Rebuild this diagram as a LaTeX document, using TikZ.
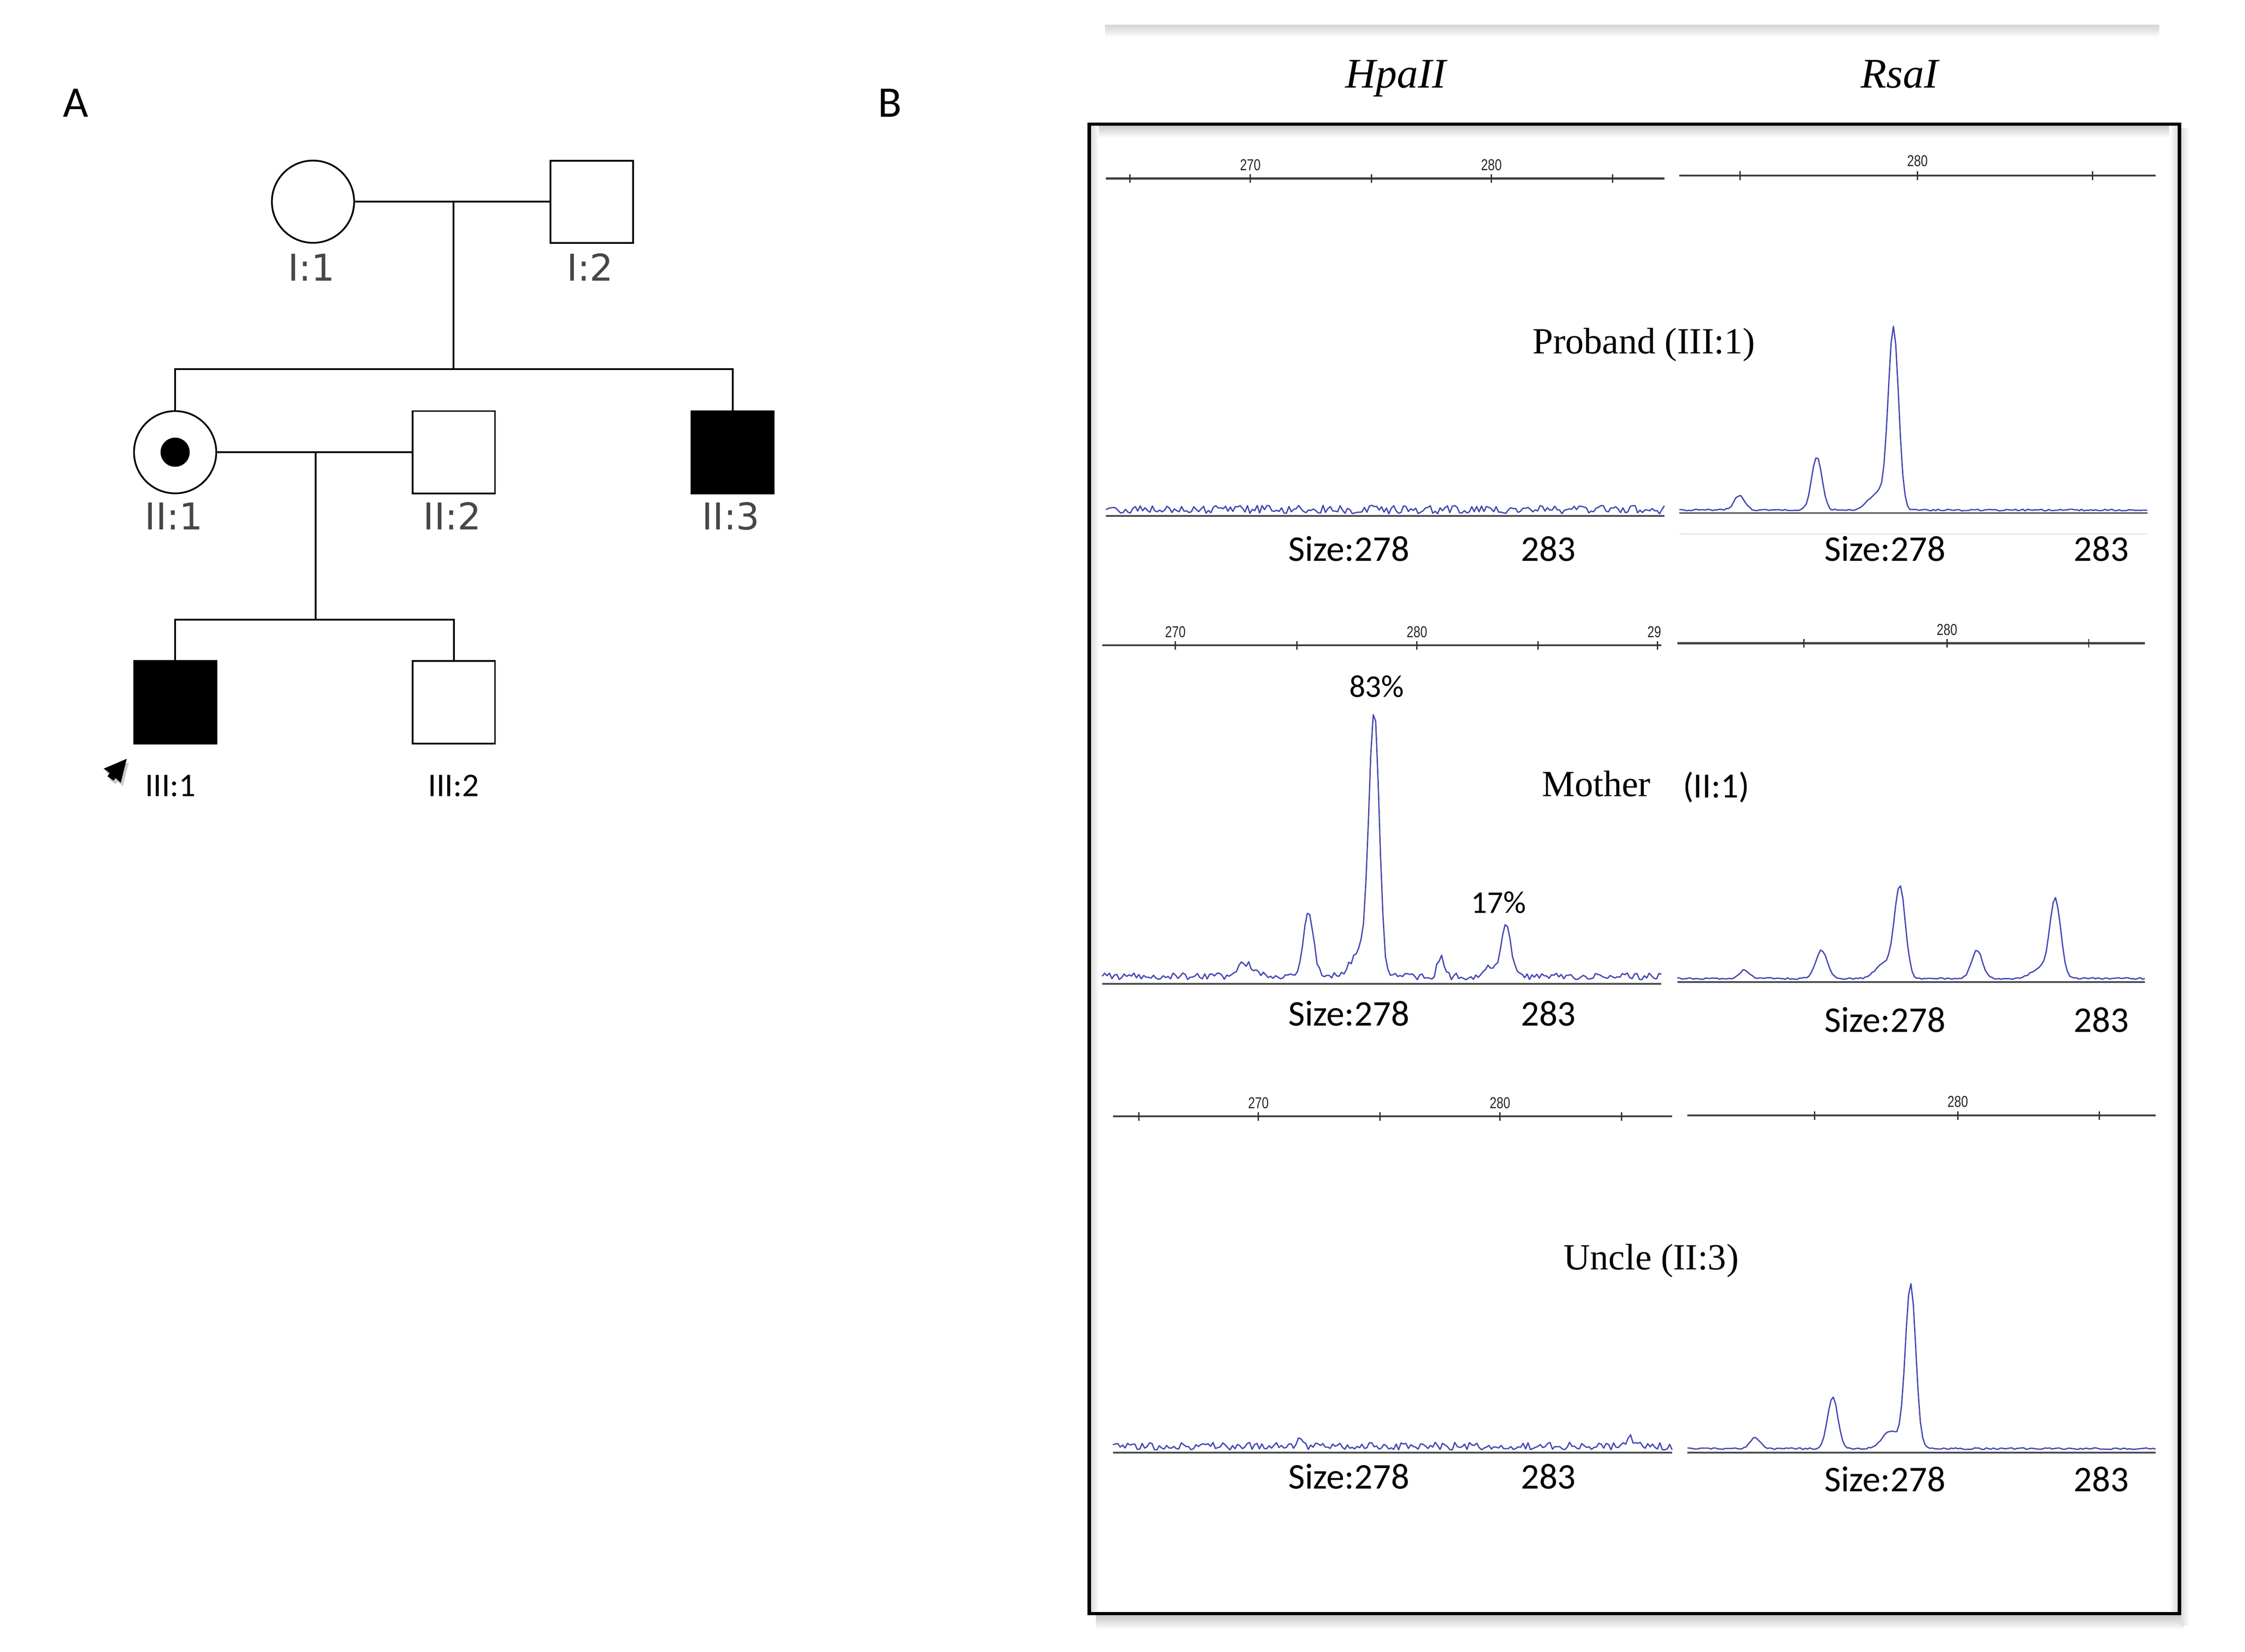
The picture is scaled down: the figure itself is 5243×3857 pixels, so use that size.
\documentclass[tikz,border=0pt]{standalone}
\usepackage{fontspec}
\setmainfont{Liberation Serif}
\newfontfamily\calfont{Carlito}
\newfontfamily\djfont{DejaVu Sans}
\newfontfamily\axfont[FakeStretch=0.78]{Liberation Sans}
\usetikzlibrary{arrows.meta}
\definecolor{tracec}{RGB}{68,72,178}
\begin{document}
\begin{tikzpicture}[x=0.01cm, y=-0.01cm,
  pline/.style={line width=1.15pt, black},
  fem/.style={circle, draw, line width=1.15pt, inner sep=0pt, minimum size=1.92cm},
  male/.style={rectangle, draw, line width=1.15pt, inner sep=0pt, minimum size=1.92cm},
  aff/.style={male, fill=black},
  plab/.style={font=\djfont\fontsize{24.5}{28}\selectfont, text=black!72, inner sep=0pt},
  clab/.style={font=\calfont\fontsize{22}{26}\selectfont, inner sep=0pt},
  panel/.style={font=\calfont\fontsize{29}{32}\selectfont, inner sep=0pt},
  enz/.style={font=\itshape\fontsize{28}{32}\selectfont, anchor=base, inner sep=0pt},
  who/.style={font=\fontsize{24.5}{28}\selectfont, anchor=base, inner sep=0pt},
  sz/.style={font=\calfont\fontsize{24}{28}\selectfont, anchor=base, inner sep=0pt},
  pct/.style={font=\calfont\fontsize{21}{24}\selectfont, anchor=base, inner sep=0pt},
  axl/.style={font=\axfont\fontsize{10.5}{12}\selectfont, text=black!85, anchor=base, inner sep=0pt},
  axisline/.style={line width=1.3pt, black!75},
  tickline/.style={line width=0.85pt, black!80},
  bline/.style={line width=1.15pt, black!70},
  tr/.style={line width=0.85pt, tracec, line join=round},
  declare function={pk(\xx,\cc,\hh,\ww)=\hh*exp(-(min(abs((\xx-\cc)/\ww),4))^2);}
]
\useasboundingbox (0,0) rectangle (5243,3857);

% ---------------- Panel A: pedigree ----------------
\node[panel] (lab-a) at (177,240) {A};

\node[fem] (i1) at (731,471) {};
\node[male] (i2) at (1382,471) {};
\coordinate (m1) at (1059,471);
\coordinate (s1) at (1059,862);
\node[fem] (ii1) at (409,1056) {};
\node[circle, fill=black, inner sep=0pt, minimum size=0.68cm] (dot) at (ii1.center) {};
\node[male] (ii2) at (1060,1056) {};
\node[aff] (ii3) at (1711,1056) {};
\coordinate (m2) at (737,1056);
\coordinate (s2) at (737,1447);
\node[aff] (iii1) at (409,1640) {};
\node[male] (iii2) at (1060,1640) {};

\draw[pline] (i1) -- (i2);
\draw[pline] (m1) -- (s1);
\draw[pline] (ii1.north) |- (s1) -| (ii3.north);
\draw[pline] (ii1) -- (ii2);
\draw[pline] (m2) -- (s2);
\draw[pline] (iii1.north) |- (s2) -| (iii2.north);

\node[plab] (t-i1) at (727,624) {I:1};
\node[plab] (t-i2) at (1378,624) {I:2};
\node[plab] (t-ii1) at (406,1205) {II:1};
\node[plab] (t-ii2) at (1056,1205) {II:2};
\node[plab] (t-ii3) at (1707,1205) {II:3};
\node[clab] (t-iii1) at (398,1835) {III:1};
\node[clab] (t-iii2) at (1059,1835) {III:2};

% proband arrow
\fill[black!45, opacity=0.45] (301,1780) -- (247,1803) -- (261,1813) -- (256,1821) -- (270,1831) -- (275,1825) -- (287,1836) -- cycle;
\fill[black] (296,1772) -- (242,1795) -- (256,1805) -- (251,1813) -- (265,1823) -- (270,1817) -- (282,1828) -- cycle;

% ---------------- Panel B ----------------
\node[panel] (lab-b) at (2078,240) {B};
\shade[top color=black!17, bottom color=white] (2581,58) rectangle (5042,88);
\node[enz] (hpa) at (3260,205) {HpaII};
\node[enz] (rsa) at (4436,205) {RsaI};

% box shadows
\shade[top color=black!22, bottom color=white] (2560,3772) rectangle (5100,3806);
\shade[left color=black!14, right color=white] (5093,300) rectangle (5114,3795);
\shade[top color=black!20, bottom color=white] (2548,294) rectangle (5086,322);
\shade[left color=black!14, right color=white] (2548,294) rectangle (2566,3768);
\shade[left color=white, right color=black!14] (5066,294) rectangle (5086,3768);
\draw[line width=2.28pt, black] (2544,290) rectangle (5090,3768);

% ---- Proband, HpaII ----
\draw[axisline] (2583,417) -- (3887,417);
\foreach \t in {2639,2920,3203,3483,3766} \draw[tickline] (\t,407) -- (\t,427);
\node[axl] at (2920,398) {270};
\node[axl] at (3483,398) {280};
\draw[bline] (2583,1205) -- (3887,1205);
\pgfmathsetseed{11}
\draw[tr] plot[domain=2583:3887, samples=230] (\x, {1190 + 10*rand});
\node[sz] at (3150,1310) {Size:278};
\node[sz] at (3616,1310) {283};

% ---- Proband, RsaI ----
\draw[axisline] (3922,410) -- (5034,410);
\foreach \t in {4064,4478,4887} \draw[tickline] (\t,400) -- (\t,420);
\node[axl] at (4478,388) {280};
\draw[bline] (3922,1198) -- (5015,1198);
\draw[black!12, line width=0.6pt] (3922,1247) -- (5015,1247);
\pgfmathsetseed{23}
\draw[tr] plot[domain=3922:5015, samples=200] (\x, {1191 + 2*rand - pk(\x,4062,34,17) - pk(\x,4243,123,17) - pk(\x,4385,40,30) - pk(\x,4422,422,17)});
\node[sz] at (4402,1310) {Size:278};
\node[sz] at (4907,1310) {283};

\node[who] (proband) at (3839,826) {Proband (III:1)};

% ---- Mother, HpaII ----
\draw[axisline] (2574,1507) -- (3880,1507);
\foreach \t in {2745,3029,3309,3592,3871} \draw[tickline] (\t,1497) -- (\t,1517);
\node[axl] at (2745,1488) {270};
\node[axl] at (3309,1488) {280};
\node[axl, anchor=base east] at (3880,1488) {29};
\draw[bline] (2574,2297) -- (3880,2297);
\pgfmathsetseed{5}
\draw[tr] plot[domain=2574:3880, samples=230] (\x, {2280 + 8*rand - pk(\x,2907,31,26) - pk(\x,3056,155,16) - pk(\x,3175,60,28) - pk(\x,3209,610,17) - pk(\x,3365,45,11) - pk(\x,3478,25,20) - pk(\x,3517,115,16)});
\node[pct] at (3215,1628) {83\%};
\node[pct] at (3500,2132) {17\%};
\node[sz] at (3150,2396) {Size:278};
\node[sz] at (3616,2396) {283};

% ---- Mother, RsaI ----
\draw[axisline] (3917,1502) -- (5009,1502);
\foreach \t in {4213,4547,4878} \draw[tickline] (\t,1492) -- (\t,1512);
\node[axl] at (4547,1483) {280};
\draw[bline] (3917,2293) -- (5009,2293);
\pgfmathsetseed{31}
\draw[tr] plot[domain=3917:5009, samples=200] (\x, {2285 + 2*rand - pk(\x,4074,20,16) - pk(\x,4254,66,19) - pk(\x,4400,35,28) - pk(\x,4437,212,18) - pk(\x,4617,66,18) - pk(\x,4765,25,28) - pk(\x,4800,182,18)});
\node[sz] at (4402,2410) {Size:278};
\node[sz] at (4907,2410) {283};

\node[who] (mother) at (3728,1860) {Mother};
\node[font=\calfont\fontsize{23.5}{26}\selectfont, anchor=base, inner sep=0pt] (motherid) at (4008,1863) {(II:1)};

% ---- Uncle, HpaII ----
\draw[axisline] (2599,2607) -- (3905,2607);
\foreach \t in {2660,2939,3223,3503,3787} \draw[tickline] (\t,2597) -- (\t,2617);
\node[axl] at (2939,2588) {270};
\node[axl] at (3503,2588) {280};
\draw[bline] (2599,3392) -- (3905,3392);
\pgfmathsetseed{47}
\draw[tr] plot[domain=2599:3905, samples=230] (\x, {3377 + 9*rand - pk(\x,3037,25,5) - pk(\x,3809,18,9)});
\node[sz] at (3150,3477) {Size:278};
\node[sz] at (3616,3477) {283};

% ---- Uncle, RsaI ----
\draw[axisline] (3941,2605) -- (5034,2605);
\foreach \t in {4238,4572,4903} \draw[tickline] (\t,2595) -- (\t,2615);
\node[axl] at (4572,2585) {280};
\draw[bline] (3941,3392) -- (5034,3392);
\pgfmathsetseed{59}
\draw[tr] plot[domain=3941:5034, samples=200] (\x, {3383 + 2*rand - pk(\x,4099,26,16) - pk(\x,4280,121,17) - pk(\x,4415,40,28) - pk(\x,4462,385,17)});
\node[sz] at (4402,3483) {Size:278};
\node[sz] at (4907,3483) {283};

\node[who] (uncle) at (3856,2965) {Uncle (II:3)};
\end{tikzpicture}
\end{document}
